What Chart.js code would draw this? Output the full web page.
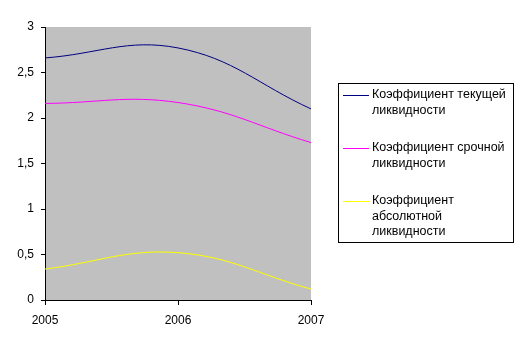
<!DOCTYPE html>
<html>
<head>
<meta charset="utf-8">
<script src="https://cdn.jsdelivr.net/npm/chart.js@4/dist/chart.umd.min.js"></script>
<style>
  body { margin: 0; background: #fff; }
  canvas { display: block; }
</style>
</head>
<body>
<canvas id="liquidityChart" width="522" height="347"></canvas>
<script>
const years = [2005, 2006, 2007];
const currentRatio = [2.66, 2.77, 2.1];
const quickRatio = [2.16, 2.17, 1.73];
const absoluteRatio = [0.34, 0.52, 0.12];
const yTicks = [0, 0.5, 1, 1.5, 2, 2.5, 3];
const seriesNames = [
  ['Коэффициент текущей', 'ликвидности'],
  ['Коэффициент срочной', 'ликвидности'],
  ['Коэффициент', 'абсолютной', 'ликвидности'],
];
const seriesColors = ['#000080', '#ff00ff', '#ffff00'];

const FAMILY = '"Liberation Sans", Arial, sans-serif';

function points(values) {
  return values.map((v, i) => ({ x: years[i], y: v }));
}

// grey plot area like the old office charts
const plotBackground = {
  id: 'plotBackground',
  beforeDraw(chart) {
    const { ctx, chartArea } = chart;
    ctx.save();
    ctx.fillStyle = '#c0c0c0';
    ctx.fillRect(chartArea.left, chartArea.top, chartArea.right - chartArea.left, chartArea.bottom - chartArea.top);
    ctx.restore();
  },
};

// boxed legend with wrapped labels
const boxLegend = {
  id: 'boxLegend',
  afterDraw(chart, args, opts) {
    const { ctx } = chart;
    ctx.save();
    ctx.strokeStyle = '#000';
    ctx.lineWidth = 1;
    ctx.strokeRect(opts.left + 0.5, opts.top + 0.5, opts.width, opts.height);
    ctx.font = `12.5px ${FAMILY}`;
    ctx.fillStyle = '#000';
    ctx.textBaseline = 'middle';
    let y = opts.firstLine;
    chart.data.datasets.forEach((ds, i) => {
      ctx.strokeStyle = ds.borderColor;
      ctx.beginPath();
      ctx.moveTo(opts.left + 5, Math.round(y) + 0.5);
      ctx.lineTo(opts.left + 31, Math.round(y) + 0.5);
      ctx.stroke();
      seriesNames[i].forEach((line, j) => {
        ctx.fillText(line, opts.left + 34, y + j * opts.lineHeight);
      });
      y += seriesNames[i].length * opts.lineHeight + opts.gap;
    });
    ctx.restore();
  },
};

new Chart(document.getElementById('liquidityChart'), {
  type: 'line',
  data: {
    datasets: [currentRatio, quickRatio, absoluteRatio].map((values, i) => ({
      label: seriesNames[i].join(' '),
      data: points(values),
      borderColor: seriesColors[i],
      borderWidth: 1,
      pointRadius: 0,
      tension: 0.4,
      fill: false,
    })),
  },
  options: {
    responsive: false,
    animation: false,
    layout: { padding: { left: 0, top: 27, right: 211, bottom: 0 } },
    plugins: {
      legend: { display: false },
      tooltip: { enabled: false },
      boxLegend: { left: 338, top: 83, width: 175, height: 159, firstLine: 95, lineHeight: 15.5, gap: 22 },
    },
    scales: {
      x: {
        type: 'linear',
        min: 2005,
        max: 2007,
        afterFit(scale) { scale.height = 47; },
        afterBuildTicks(scale) { scale.ticks = years.map((v) => ({ value: v })); },
        border: { color: '#000', width: 1 },
        grid: { drawOnChartArea: false, tickLength: 5, color: '#000' },
        ticks: {
          color: '#000',
          font: { family: FAMILY, size: 12 },
          padding: 8,
          maxRotation: 0,
          callback: (v) => String(v),
        },
      },
      y: {
        min: 0,
        max: 3,
        afterFit(scale) { scale.width = 45; },
        afterBuildTicks(scale) { scale.ticks = yTicks.map((v) => ({ value: v })); },
        border: { color: '#000', width: 1 },
        grid: { drawOnChartArea: false, tickLength: 4, color: '#000' },
        ticks: {
          color: '#000',
          font: { family: FAMILY, size: 12 },
          padding: 7,
          callback: (v) => String(v).replace('.', ','),
        },
      },
    },
  },
  plugins: [plotBackground, boxLegend],
});
</script>
</body>
</html>
